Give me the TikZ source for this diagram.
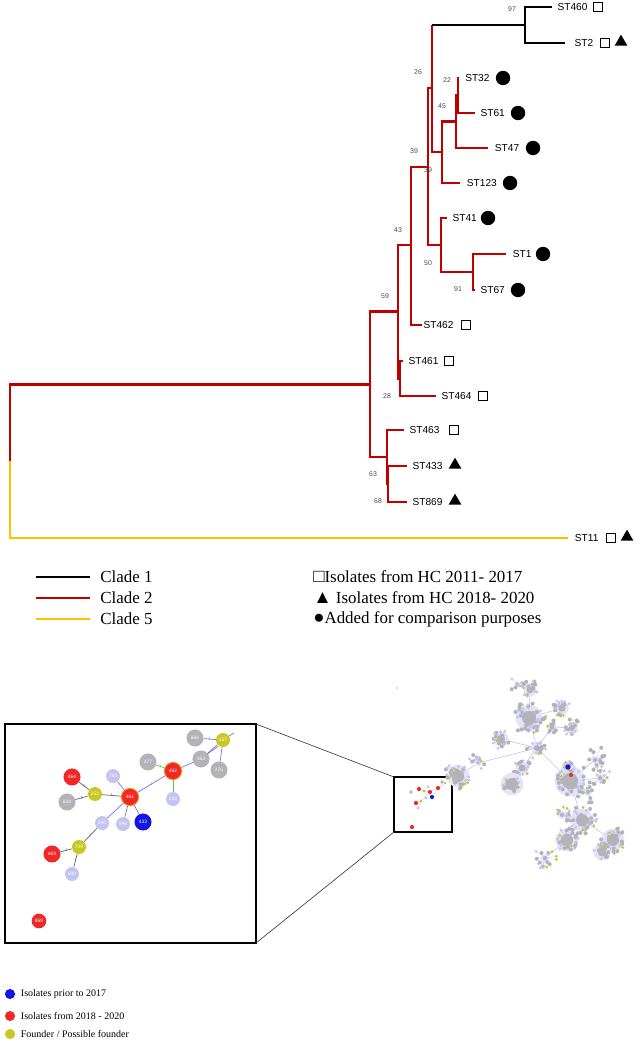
\documentclass[tikz,border=0pt]{standalone}
\usepackage{fontspec}
\setmainfont{Liberation Serif}
\newfontfamily\arialfont{Liberation Sans}
\usetikzlibrary{positioning,shapes.geometric}

\definecolor{cladeone}{RGB}{0,0,0}
\definecolor{cladetwo}{RGB}{192,0,0}
\definecolor{cladefive}{RGB}{255,192,0}
\definecolor{bootcol}{RGB}{70,70,95}
\definecolor{netblue}{RGB}{20,20,230}
\definecolor{netred}{RGB}{240,40,40}
\definecolor{netyellow}{RGB}{200,200,35}
\definecolor{netgrey}{RGB}{178,178,184}
\definecolor{netlav}{RGB}{196,196,242}
\definecolor{linkblue}{RGB}{110,110,225}
\definecolor{linkgreen}{RGB}{70,205,70}
\definecolor{linkgrey}{RGB}{95,95,95}

\tikzset{
 branch/.style={line width=1.6pt},
 cladeA/.style={branch,draw=cladeone},
 cladeB/.style={branch,draw=cladetwo},
 cladeE/.style={branch,draw=cladefive},
 leaf/.style={font=\arialfont\fontsize{7.6}{9}\selectfont,inner sep=0pt},
 boot/.style={font=\arialfont\fontsize{5.2}{6}\selectfont,text=bootcol,inner sep=0pt},
 sqmark/.style={draw,line width=0.7pt,minimum size=7.4pt,inner sep=0pt},
 trimark/.style={regular polygon,regular polygon sides=3,fill=black,minimum size=11pt,inner sep=0pt},
 dotmark/.style={circle,fill=black,minimum size=10.8pt,inner sep=0pt},
 keyline/.style={line width=2.2pt},
 keytext/.style={font=\fontsize{12.7}{14}\selectfont,anchor=west,inner sep=0pt},
 netnode/.style={circle,inner sep=0pt,text=white,font=\arialfont\fontsize{3.6}{4}\selectfont},
 nbig/.style={netnode,minimum size=12.8pt},
 nsmall/.style={netnode,minimum size=10.5pt},
 isored/.style={nbig,fill=netred},
 isoring/.style={isored,draw=orange,line width=0.7pt},
 isoblue/.style={nbig,fill=netblue},
 founder/.style={nsmall,fill=netyellow},
 othergrey/.style={nbig,fill=netgrey},
 otherlav/.style={nsmall,fill=netlav},
 lnkblue/.style={draw=linkblue,line width=0.5pt},
 lnkgreen/.style={draw=linkgreen,line width=0.5pt},
 lnkgrey/.style={draw=linkgrey,line width=0.5pt},
 tick/.style={font=\arialfont\fontsize{3}{3}\selectfont,inner sep=0.4pt},
 netedge/.style={draw=netlav!80,line width=0.25pt},
 hublink/.style={draw=netlav,line width=0.45pt},
 keydot/.style={circle,minimum size=7.6pt,inner sep=0pt},
 keysmall/.style={font=\fontsize{7.5}{9}\selectfont,inner sep=0pt}
}

\newcommand{\bigsym}[1]{{\fontsize{14}{14}\selectfont #1}}

% one cloud of the minimum spanning tree: x, y, spread, spokes, core, seed
\newcommand{\netclump}[6]{%
  \pgfmathsetseed{#6}
  \fill[netlav!45] (#1,#2) circle (#5*1.9);
  \foreach \k in {1,...,#4}{
    \pgfmathsetmacro{\ang}{360*rnd}
    \pgfmathsetmacro{\len}{#3*(0.35+0.65*rnd)}
    \pgfmathsetmacro{\pick}{rnd}
    \draw[netedge] (#1,#2) -- ++(\ang:\len) coordinate (tip);
    \ifdim\pick pt<0.45pt \fill[netgrey] (tip) circle (2.0);
    \else\ifdim\pick pt<0.88pt \fill[netlav] (tip) circle (1.6);
    \else \fill[netyellow] (tip) circle (1.5); \fi\fi
  }
  \fill[netgrey] (#1,#2) circle (#5);
}

\begin{document}
\begin{tikzpicture}[x=0.75pt,y=0.75pt,yscale=-1,xscale=1]
\useasboundingbox (0,0) rectangle (640,1048);

% inner nodes of the tree
\coordinate (root) at (10,461);
\coordinate (n59) at (370,384.5);
\coordinate (n43) at (398,311.5);
\coordinate (n63) at (387,457);
\coordinate (n68) at (388,484);
\coordinate (n28) at (400,378.5);
\coordinate (n39a) at (411,245);
\coordinate (n39b) at (428,167);
\coordinate (n26) at (432,88);
\coordinate (n97) at (525,25);
\coordinate (na) at (442,152);
\coordinate (n45) at (456,121.5);
\coordinate (n22) at (458,95.5);
\coordinate (n50) at (441,245);
\coordinate (n91) at (473,272);
% tips
\coordinate (t460) at (552,7);
\coordinate (t2) at (565,43);
\coordinate (t32) at (459,78);
\coordinate (t61) at (475,113);
\coordinate (t47) at (488,148);
\coordinate (t123) at (460,183);
\coordinate (t41) at (447,218);
\coordinate (t1) at (506,254);
\coordinate (t67) at (475,290);
\coordinate (t462) at (422,325);
\coordinate (t461) at (403,361);
\coordinate (t464) at (436,396);
\coordinate (t463) at (404,430);
\coordinate (t433) at (407,466);
\coordinate (t869) at (407,502);
\coordinate (t11) at (568,538);

%Branches: clade 2
\draw[cladeB] (root) |- (n59);
\draw[cladeB] (n59) |- (n43);
\draw[cladeB] (n59) |- (n63);
\draw[cladeB] (n63) |- (t463);
\draw[cladeB] (n63) |- (n68);
\draw[cladeB] (n68) |- (t433);
\draw[cladeB] (n68) |- (t869);
\draw[cladeB] (n43) |- (n39a);
\draw[cladeB] (n43) |- (n28);
\draw[cladeB] (n28) |- (t461);
\draw[cladeB] (n28) |- (t464);
\draw[cladeB] (n39a) |- (n39b);
\draw[cladeB] (n39a) |- (t462);
\draw[cladeB] (n39b) |- (n26);
\draw[cladeB] (n39b) |- (n50);
\draw[cladeB] (n26) |- (na);
\draw[cladeB] (na) |- (n45);
\draw[cladeB] (na) |- (t123);
\draw[cladeB] (n45) |- (n22);
\draw[cladeB] (n45) |- (t47);
\draw[cladeB] (n22) |- (t32);
\draw[cladeB] (n22) |- (t61);
\draw[cladeB] (n50) |- (t41);
\draw[cladeB] (n50) |- (n91);
\draw[cladeB] (n91) |- (t1);
\draw[cladeB] (n91) |- (t67);
\draw[cladeB] (n26) -- (n26 |- n97);
%Branches: clade 1
\draw[cladeA] (n26 |- n97) -- (n97);
\draw[cladeA] (n97) |- (t460);
\draw[cladeA] (n97) |- (t2);
%Branches: clade 5
\draw[cladeE] (root) |- (t11);

% Text Node: tip labels
\node[leaf,right=4pt of t460] (l460) {ST460};
\node[leaf,right=7pt of t2] (l2) {ST2};
\node[leaf,right=4.5pt of t32] (l32) {ST32};
\node[leaf,right=4pt of t61] (l61) {ST61};
\node[leaf,right=5pt of t47] (l47) {ST47};
\node[leaf,right=5pt of t123] (l123) {ST123};
\node[leaf,right=4pt of t41] (l41) {ST41};
\node[leaf,right=5pt of t1] (l1) {ST1};
\node[leaf,right=4pt of t67] (l67) {ST67};
\node[leaf,right=1pt of t462] (l462) {ST462};
\node[leaf,right=4pt of t461] (l461) {ST461};
\node[leaf,right=4pt of t464] (l464) {ST464};
\node[leaf,right=4pt of t463] (l463) {ST463};
\node[leaf,right=4pt of t433] (l433) {ST433};
\node[leaf,right=4pt of t869] (l869) {ST869};
\node[leaf,right=5pt of t11] (l11) {ST11};

% markers
\node[sqmark] (s460) at (598,7) {};
\node[sqmark] (s2) at (605,43) {};
\node[trimark] (r2) at (621,42) {};
\node[dotmark] (d32) at (503,78) {};
\node[dotmark] (d61) at (518,113) {};
\node[dotmark] (d47) at (533,148) {};
\node[dotmark] (d123) at (510,183) {};
\node[dotmark] (d41) at (488,218) {};
\node[dotmark] (d1) at (543,254) {};
\node[dotmark] (d67) at (518,290) {};
\node[sqmark] (s462) at (466,325) {};
\node[sqmark] (s461) at (449,361) {};
\node[sqmark] (s464) at (483,396) {};
\node[sqmark] (s463) at (454,430) {};
\node[trimark] (r433) at (455,465) {};
\node[trimark] (r869) at (455,501) {};
\node[sqmark] (s11) at (611,538) {};
\node[trimark] (r11) at (627,537) {};

% Text Node: bootstrap values
\node[boot] (b97) at (512,9) {97};
\node[boot] (b26) at (418,72) {26};
\node[boot] (b22) at (447,80) {22};
\node[boot] (b45) at (442,106) {45};
\node[boot] (b39) at (414,151) {39};
\node[boot] (b39x) at (428,170) {39};
\node[boot] (b43) at (398,230) {43};
\node[boot] (b50) at (428,263) {50};
\node[boot] (b91) at (458,289) {91};
\node[boot] (b59) at (385,296) {59};
\node[boot] (b28) at (387,396) {28};
\node[boot] (b63) at (373,474) {63};
\node[boot] (b68) at (378,501) {68};

% key of the tree
\draw[keyline,draw=cladeone] (36,577) -- (90,577);
\draw[keyline,draw=cladetwo] (36,598) -- (90,598);
\draw[keyline,draw=cladefive] (36,619) -- (90,619);
\node[keytext] (k1) at (100,577) {Clade 1};
\node[keytext] (k2) at (100,598) {Clade 2};
\node[keytext] (k5) at (100,619) {Clade 5};
\node[keytext] (kq) at (313,577) {\bigsym{□}Isolates from HC 2011- 2017};
\node[keytext] (kt) at (313,598) {\bigsym{▲} Isolates from HC 2018- 2020};
\node[keytext] (kc) at (313,619) {\bigsym{●}Added for comparison purposes};

%Shape: zoom frames
\draw[line width=1.5pt] (5,724) rectangle (256,943);
\draw[line width=1.5pt] (394,777) rectangle (452,832);
\draw[line width=0.5pt,draw=black!75] (256,724) -- (394,777);
\draw[line width=0.5pt,draw=black!75] (256,943) -- (394,832);

% whole population cloud
\fill[netlav] (397,688) circle (1.2);
\draw[hublink] (458,776) -- (478,763) -- (537,748) -- (529,718) -- (530,690) -- (517,684);
\draw[hublink] (529,718) -- (562,708);
\draw[hublink] (537,748) -- (501,739);
\draw[hublink] (537,748) -- (552,727) -- (572,728);
\draw[hublink] (537,748) -- (522,768) -- (512,784);
\draw[hublink] (537,748) -- (570,781) -- (568,767);
\draw[hublink] (570,781) -- (595,760);
\draw[hublink] (570,781) -- (600,778);
\draw[hublink] (570,781) -- (588,792);
\draw[hublink] (570,781) -- (582,820) -- (613,840) -- (602,852);
\draw[hublink] (582,820) -- (562,815);
\draw[hublink] (582,820) -- (567,840) -- (545,858);
\foreach \cx/\cy/\sp/\ns/\cr/\sd in {
  529/718/17/48/7/11, 530/690/10/18/3.5/12, 517/684/8/8/1.5/13,
  562/708/9/18/3.5/14, 572/728/9/16/3/15, 501/739/10/18/4/16,
  537/748/11/16/3/17, 552/727/7/9/2.5/18, 522/768/9/16/3.5/19,
  512/784/9/26/6/20, 478/763/10/12/1.5/21, 458/776/14/34/6/22,
  568/767/7/16/3.5/23, 570/781/15/46/8/24, 595/760/14/16/2/25,
  600/778/12/14/2/26, 588/792/11/12/2/27, 582/820/15/36/6/28,
  567/840/12/28/6/29, 613/840/14/30/6/30, 602/852/10/16/4.5/31,
  545/858/12/16/2/32, 562/815/9/12/2/33}{
  \netclump{\cx}{\cy}{\sp}{\ns}{\cr}{\sd}
}
\fill[netblue] (568,767) circle (2.6);
\fill[netred] (571,775) circle (2);

% samples of the zoomed part
\draw[netedge,line width=0.4pt] (419,789) -- (424,791) -- (430,792) -- (438,788) -- (445,783);
\draw[netedge,line width=0.4pt] (430,792) -- (432,797);
\draw[netedge,line width=0.4pt] (430,792) -- (421,801) -- (416,803);
\draw[netedge,line width=0.4pt] (421,801) -- (418,808);
\fill[netgrey] (442,782) circle (1.8);
\fill[netgrey] (411,792) circle (1.8);
\fill[netlav] (428,787) circle (1.6);
\fill[netlav] (418,808) circle (1.6);
\fill[netlav] (426,798) circle (1.6);
\fill[netyellow] (424,791) circle (1.6);
\fill[netyellow] (421,801) circle (1.6);
\fill[netyellow] (445,783) circle (1.4);
\fill[netred] (419,789) circle (2.1);
\fill[netred] (438,788) circle (2.1);
\fill[netred] (430,792) circle (2.1);
\fill[netred] (416,803) circle (2.1);
\fill[netred] (412,827) circle (2.1);
\fill[netblue] (432,797) circle (2.1);

% enlarged part
\node[othergrey] (v666) at (195,738) {666};
\node[founder] (v157) at (223,740) {157};
\node[othergrey] (v363) at (201,759) {363};
\node[othergrey] (v276) at (219,770) {276};
\node[othergrey] (v277) at (148,762) {277};
\node[isoring] (v462) at (173,771) {462};
\node[otherlav] (v226) at (173,799) {226};
\node[isored] (v464) at (72,777) {464};
\node[otherlav] (v783) at (113,776) {783};
\node[founder] (v252) at (95,794) {252};
\node[isoring] (v461) at (130,797) {461};
\node[othergrey] (v628) at (67,802) {628};
\node[isoblue] (v433) at (143,822) {433};
\node[otherlav] (v594) at (123,824) {594};
\node[otherlav] (v590) at (102,823) {590};
\node[founder] (v709) at (79,847) {709};
\node[isored] (v463) at (52,854) {463};
\node[otherlav] (v690) at (72,874) {690};
\node[isored,minimum size=11pt] (v869) at (39,921) {869};
\coordinate (stub) at (234,733);

\draw[lnkblue] (v666) -- node[tick,text=linkblue]{1} (v157);
\draw[lnkblue] (v363) -- (v157);
\draw[lnkblue] ([yshift=1pt]v363.north east) -- ([yshift=1pt]v157.south west);
\draw[lnkblue] (v276) -- (v157);
\draw[lnkblue] (v157) -- (stub);
\draw[lnkblue] (v462) -- (v363);
\draw[lnkgreen] (v277) -- node[tick,text=linkgreen]{1} (v462);
\draw[lnkgreen] (v226) -- (v462);
\draw[lnkblue] (v461) -- node[tick,text=linkblue]{1} (v462);
\draw[lnkblue] (v783) -- (v461);
\draw[lnkgrey] (v252) -- node[tick,text=linkgrey]{1} (v461);
\draw[lnkgrey] (v464) -- node[tick,text=linkgrey]{1} (v252);
\draw[lnkgrey] (v628) -- node[tick,text=linkgrey]{1} (v252);
\draw[lnkblue] (v594) -- (v461);
\draw[lnkblue] (v433) -- (v461);
\draw[lnkblue] (v590) -- (v461);
\draw[lnkgrey] (v709) -- node[tick,text=linkgrey]{1} (v590);
\draw[lnkgrey] (v463) -- node[tick,text=linkgrey]{1} (v709);
\draw[lnkgrey] (v690) -- node[tick,text=linkgrey]{1} (v709);

% key of the network
\node[keydot,fill=netblue] (kb) at (10,994) {};
\node[keydot,fill=netred] (kr) at (10,1016) {};
\node[keydot,fill=netyellow] (ky) at (10,1034) {};
\node[keysmall,right=4pt of kb] (tb) {Isolates prior to 2017};
\node[keysmall,right=4pt of kr] (tr) {Isolates from 2018 - 2020};
\node[keysmall,right=4pt of ky] (ty) {Founder / Possible founder};

\end{tikzpicture}
\end{document}
